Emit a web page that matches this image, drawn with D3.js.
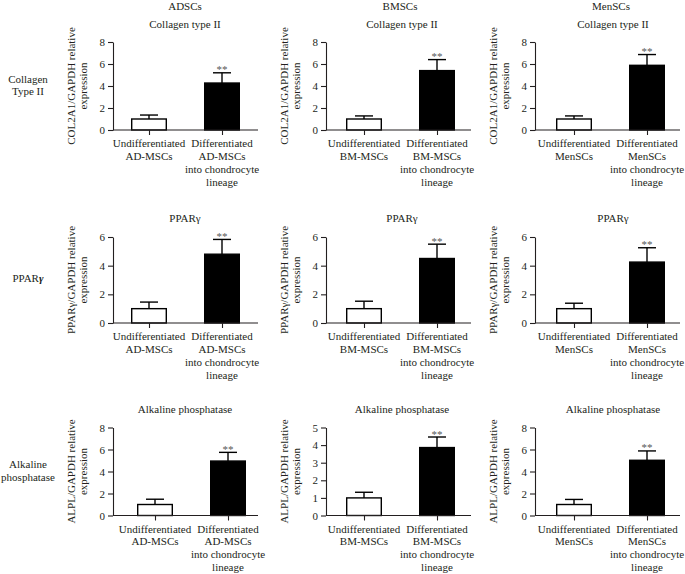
<!DOCTYPE html>
<html>
<head>
<meta charset="utf-8">
<script src="https://cdn.jsdelivr.net/npm/d3@7"></script>
<style>
html,body{margin:0;padding:0;background:#fff;}
svg{display:block;}
text{font-family:"Liberation Serif","DejaVu Serif",serif;fill:#231f20;}
</style>
</head>
<body>
<svg id="chart" width="685" height="574"></svg>
<script>
// ---------------- data ----------------
const columns = ["ADSCs", "BMSCs", "MenSCs"];
const rowTitles = ["Collagen type II", "PPARγ", "Alkaline phosphatase"];
const rowLabels = [["Collagen", "Type II"], ["PPARγ"], ["Alkaline", "phosphatase"]];
const yLabels = ["COL2A1/GAPDH relative", "PPARγ/GAPDH relative", "ALPL/GAPDH relative"];
const yLabel2 = "expression";
const cellTypes = ["AD-MSCs", "BM-MSCs", "MenSCs"];
const groups = ["Undifferentiated", "Differentiated"];
// mean values [row][column]
const undiffMean = [[1.0, 1.0, 1.0], [1.0, 1.0, 1.0], [1.0, 1.0, 1.0]];
const undiffErr  = [[0.36, 0.28, 0.28], [0.46, 0.52, 0.38], [0.48, 0.32, 0.46]];
const diffMean   = [[4.27, 5.4, 5.88], [4.8, 4.5, 4.25], [4.95, 3.86, 5.02]];
const diffErr    = [[0.93, 1.0, 0.98], [1.03, 1.0, 1.0], [0.79, 0.6, 0.85]];
const yMax       = [[8, 8, 8], [6, 6, 6], [8, 5, 8]];
const yStep      = [[2, 2, 2], [2, 2, 2], [2, 1, 2]];
const signif = "**";

// ---------------- layout ----------------
const svg = d3.select("#chart");
const colAxisX = [113, 326, 535];
const barOffset = [[36, 38, 39], [36, 38, 39], [42, 38, 39]];
const barStep = 73, barW = 36, axisLen = 145;
const rowY0 = [130, 323, 515.5];
const rowYTop = [42, 237, 427.5];
const titleY = [28, 222, 413];
const titleX = [185, 402, 613];
const headerX = [185, 400, 611];
const headerY = 10;
const fs = 11;

// column headers
columns.forEach((c, j) => {
  svg.append("text").attr("x", headerX[j]).attr("y", headerY)
    .attr("text-anchor", "middle").attr("font-size", fs).text(c);
});

// row labels
const rowLabelY = [[83, 95], [282], [468, 480.5]];
rowLabels.forEach((lines, i) => {
  lines.forEach((l, k) => {
    const t = svg.append("text").attr("x", 28).attr("y", rowLabelY[i][k])
      .attr("text-anchor", "middle").attr("font-size", fs);
    if (l.endsWith("γ")) {
      t.append("tspan").text(l.slice(0, -1));
      t.append("tspan").attr("font-style", "italic").attr("font-weight", "bold").text("γ");
    } else t.text(l);
  });
});

for (let i = 0; i < 3; i++) {
  for (let j = 0; j < 3; j++) {
    const ax = colAxisX[j];
    const g = svg.append("g");
    const y = d3.scaleLinear().domain([0, yMax[i][j]]).range([rowY0[i], rowYTop[i]]);
    const x = d3.scalePoint().domain(groups)
      .range([ax + barOffset[i][j], ax + barOffset[i][j] + barStep]);

    // title
    g.append("text").attr("x", titleX[j]).attr("y", titleY[i])
      .attr("text-anchor", "middle").attr("font-size", fs).text(rowTitles[i]);

    // y label
    const cy = (rowY0[i] + rowYTop[i]) / 2;
    g.append("text").attr("transform", `translate(${ax - 38},${cy}) rotate(-90)`)
      .attr("text-anchor", "middle").attr("font-size", fs).text(yLabels[i]);
    g.append("text").attr("transform", `translate(${ax - 26},${cy}) rotate(-90)`)
      .attr("text-anchor", "middle").attr("font-size", fs).text(yLabel2);

    // bars
    const data = [
      {grp: groups[0], m: undiffMean[i][j], e: undiffErr[i][j], fill: "#fff"},
      {grp: groups[1], m: diffMean[i][j], e: diffErr[i][j], fill: "#000"}
    ];
    // error bars (upper only)
    data.forEach(d => {
      g.append("line").attr("x1", x(d.grp)).attr("x2", x(d.grp))
        .attr("y1", y(d.m)).attr("y2", y(d.m + d.e))
        .attr("stroke", "#000").attr("stroke-width", 1.4);
      g.append("line").attr("x1", x(d.grp) - 9).attr("x2", x(d.grp) + 9)
        .attr("y1", y(d.m + d.e)).attr("y2", y(d.m + d.e))
        .attr("stroke", "#000").attr("stroke-width", 1.4);
    });
    g.selectAll("rect.bar").data(data).enter().append("rect")
      .attr("x", d => x(d.grp) - barW / 2 + 0.7)
      .attr("width", barW - 1.4)
      .attr("y", d => y(d.m))
      .attr("height", d => y(0) - y(d.m))
      .attr("fill", d => d.fill)
      .attr("stroke", "#000").attr("stroke-width", 1.4);

    // significance
    g.append("text").attr("x", x(groups[1])).attr("y", y(data[1].m + data[1].e) + 0.5)
      .attr("text-anchor", "middle").attr("font-size", 11).style("fill", "#555").text(signif);

    // y axis
    const yAxis = d3.axisLeft(y).tickValues(d3.range(0, yMax[i][j] + 0.001, yStep[i][j]))
      .tickSize(5).tickSizeOuter(0).tickPadding(3).tickFormat(d3.format("d"));
    const ya = g.append("g").attr("transform", `translate(${ax},0)`).call(yAxis);
    ya.selectAll("path,line").attr("stroke", "#231f20").attr("stroke-width", 1.1);
    ya.selectAll("text").attr("font-size", fs).style("font-family", '"Liberation Serif",serif').style("fill", "#231f20");

    // x axis
    g.append("line").attr("x1", ax).attr("x2", ax + axisLen)
      .attr("y1", rowY0[i]).attr("y2", rowY0[i]).attr("stroke", "#231f20").attr("stroke-width", 1.1);
    const xAxis = d3.axisBottom(x).tickSize(5).tickFormat("");
    const xa = g.append("g").attr("transform", `translate(0,${rowY0[i]})`).call(xAxis);
    xa.select(".domain").remove();
    xa.selectAll("line").attr("stroke", "#231f20").attr("stroke-width", 1.1);

    // x tick labels (multi-line)
    const labs = [[groups[0], cellTypes[j]], [groups[1], cellTypes[j], "into chondrocyte", "lineage"]];
    labs.forEach((lines, k) => {
      const t = g.append("text").attr("x", x(groups[k])).attr("y", rowY0[i] + 17)
        .attr("text-anchor", "middle").attr("font-size", fs);
      lines.forEach((l, n) => {
        t.append("tspan").attr("x", x(groups[k])).attr("dy", n === 0 ? 0 : 12.9).text(l);
      });
    });
  }
}
</script>
</body>
</html>
